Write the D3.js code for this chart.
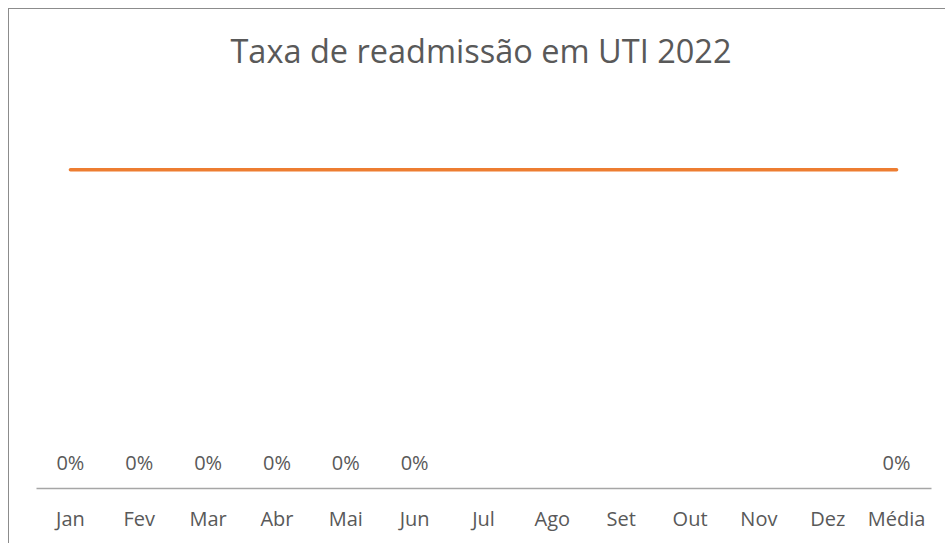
<!DOCTYPE html>
<html>
<head>
<meta charset="utf-8">
<script src="https://cdn.jsdelivr.net/npm/d3@7"></script>
<style>
  html, body { margin: 0; padding: 0; background: #fff; overflow: hidden; }
  svg { display: block; }
</style>
</head>
<body>
<svg id="chart" width="945" height="543"></svg>
<script>
// data
var months = ["Jan", "Fev", "Mar", "Abr", "Mai", "Jun", "Jul", "Ago", "Set", "Out", "Nov", "Dez", "Média"];
var taxa = [0, 0, 0, 0, 0, 0, null, null, null, null, null, null, 0];
var meta = [0.025, 0.025, 0.025, 0.025, 0.025, 0.025, 0.025, 0.025, 0.025, 0.025, 0.025, 0.025, 0.025];
var yDomain = [0, 0.03];

var svg = d3.select("#chart");
var FONT = "'Open Sans', 'Noto Sans', sans-serif";
var TEXT_COLOR = "#595959";

// chart frame (cropped on right/bottom)
svg.append("rect")
    .attr("x", 8.5).attr("y", 8.5)
    .attr("width", 1000).attr("height", 1000)
    .attr("fill", "#fff")
    .attr("stroke", "#8c8c8c")
    .attr("stroke-width", 1);

svg.append("text")
    .attr("x", 481)
    .attr("y", 63)
    .attr("text-anchor", "middle")
    .attr("font-family", FONT)
    .attr("font-size", "32.5px")
    .attr("fill", TEXT_COLOR)
    .text("Taxa de readmissão em UTI 2022");

var x = d3.scaleBand()
    .domain(months)
    .range([36, 931]);

var y = d3.scaleLinear()
    .domain(yDomain)
    .range([488, 106]);

// bars (all zero)
svg.append("g").selectAll("rect")
    .data(months.filter(function(d, i) { return taxa[i] !== null; }))
    .enter().append("rect")
    .attr("x", function(d) { return x(d) + x.bandwidth() * 0.2; })
    .attr("width", x.bandwidth() * 0.6)
    .attr("y", function(d) { return y(taxa[months.indexOf(d)]); })
    .attr("height", function(d) { return y(0) - y(taxa[months.indexOf(d)]); })
    .attr("fill", "#4472c4");

// meta line
var line = d3.line()
    .x(function(d, i) { return x(months[i]) + x.bandwidth() / 2; })
    .y(function(d) { return y(d); });

svg.append("path")
    .datum(meta)
    .attr("d", line)
    .attr("fill", "none")
    .attr("stroke", "#ed7d31")
    .attr("stroke-width", 3.5)
    .attr("stroke-linecap", "round");

// x axis
var xAxis = svg.append("g")
    .attr("transform", "translate(0,488)")
    .call(d3.axisBottom(x).tickSize(0).tickPadding(0));
xAxis.select(".domain")
    .attr("stroke", "#a6a6a6")
    .attr("stroke-width", 1.3);
xAxis.selectAll("text")
    .attr("font-family", FONT)
    .attr("font-size", "20px")
    .attr("fill", TEXT_COLOR)
    .attr("dy", null)
    .attr("y", 38);

// data labels
svg.append("g").selectAll("text")
    .data(months.filter(function(d, i) { return taxa[i] !== null; }))
    .enter().append("text")
    .attr("x", function(d) { return x(d) + x.bandwidth() / 2; })
    .attr("y", function(d) { return y(taxa[months.indexOf(d)]) - 18; })
    .attr("text-anchor", "middle")
    .attr("font-family", FONT)
    .attr("font-size", "20px")
    .attr("fill", TEXT_COLOR)
    .text(function(d) { return d3.format(".0%")(taxa[months.indexOf(d)]); });
</script>
</body>
</html>
